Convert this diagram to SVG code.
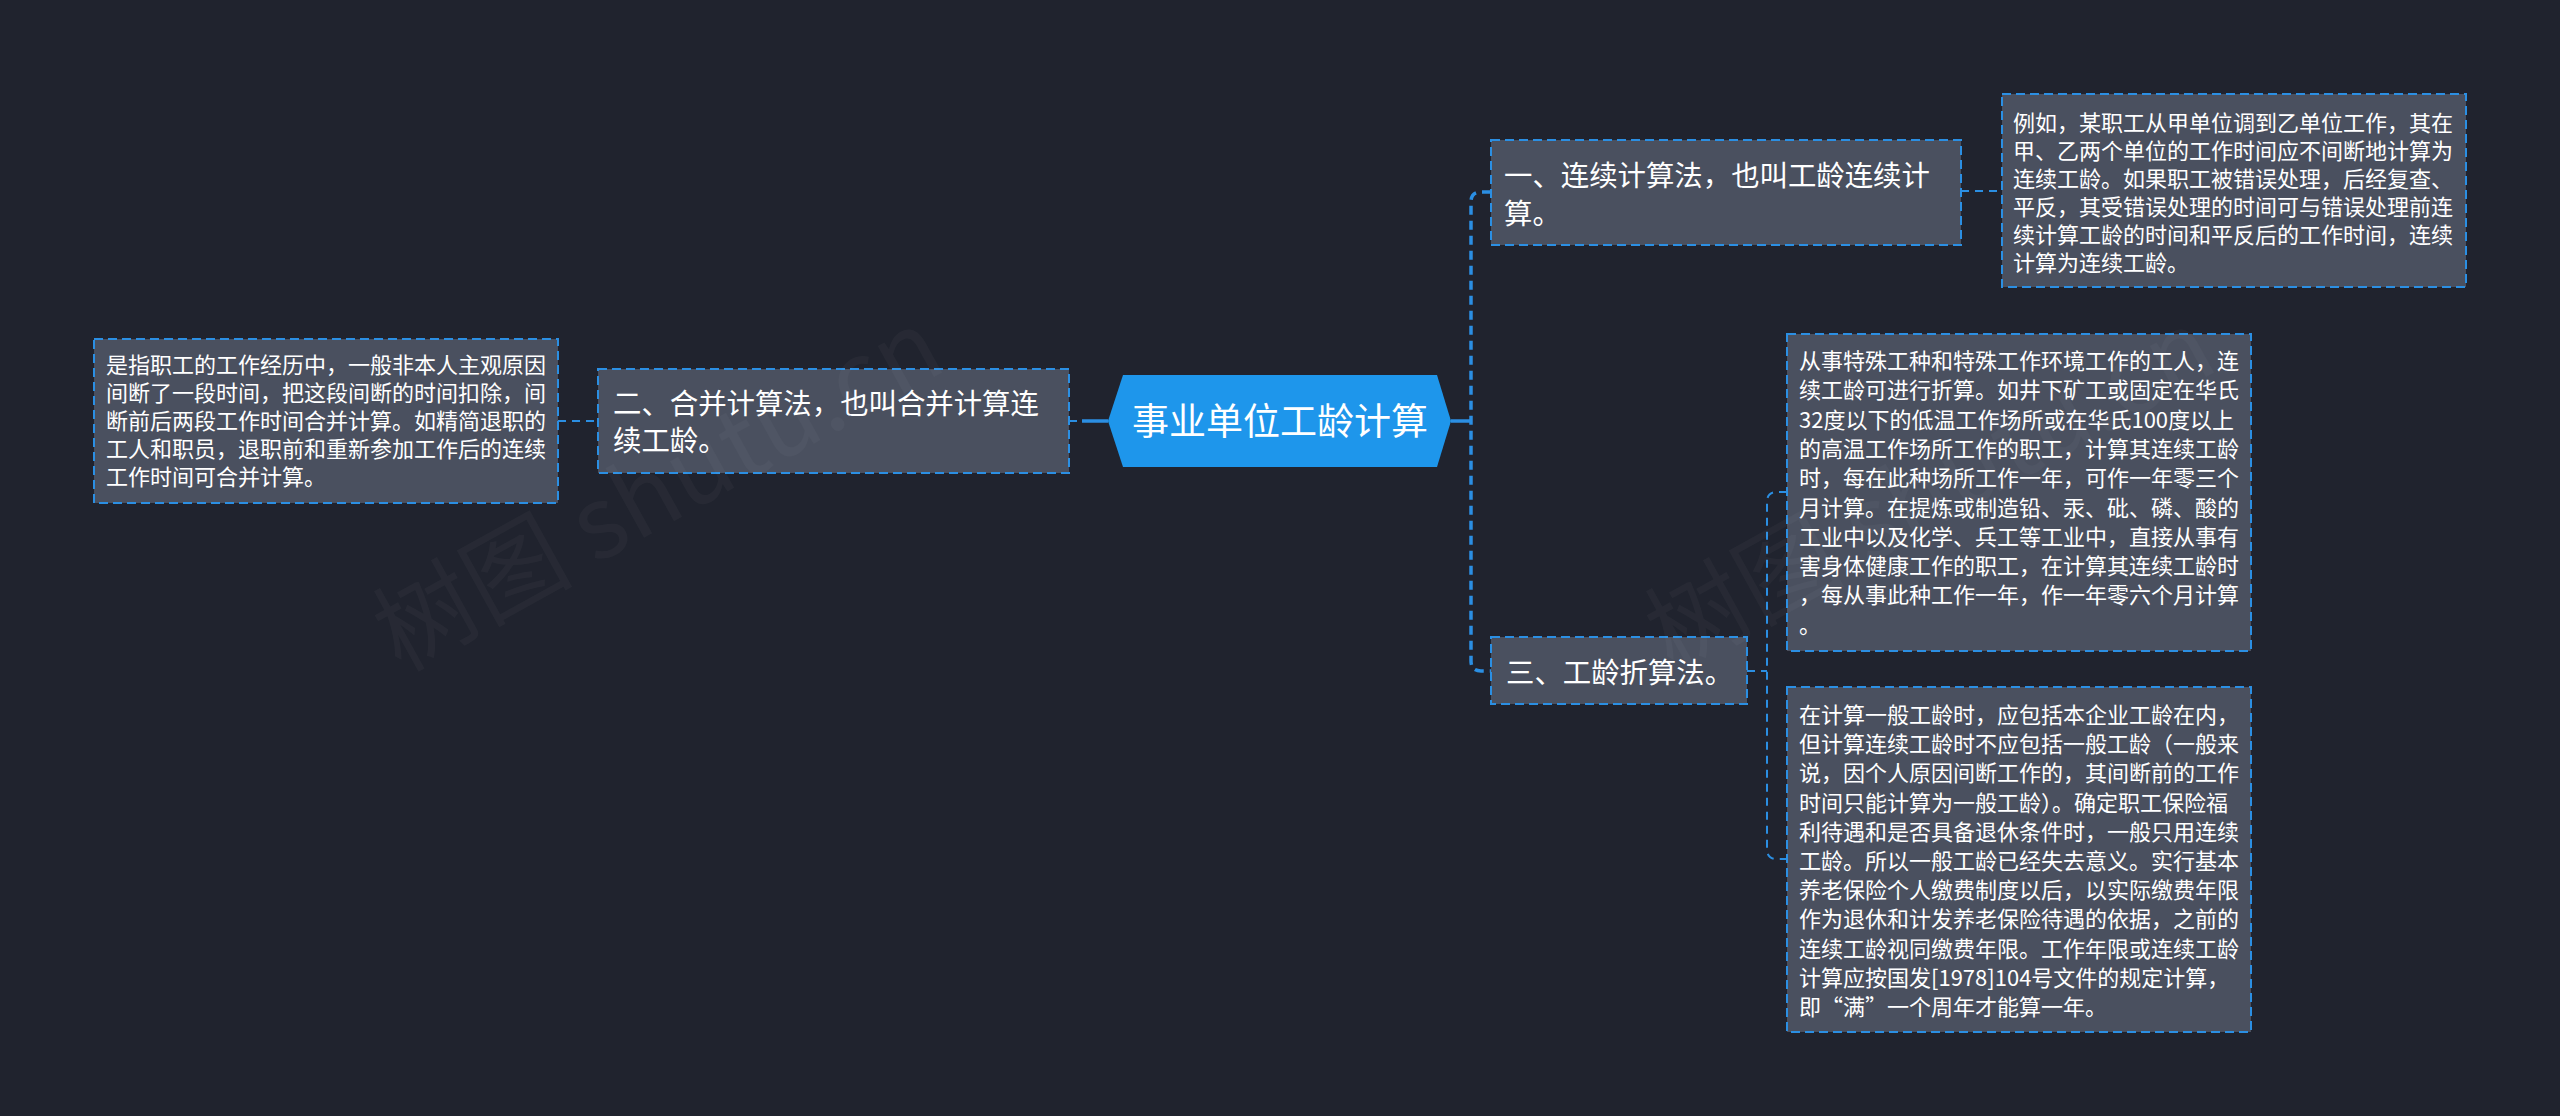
<svg xmlns="http://www.w3.org/2000/svg" width="2560" height="1116" viewBox="0 0 2560 1116">
<style>
.bg{fill:#20232e}
.box{fill:#4a505f;stroke:#2b8fe3;stroke-width:2;stroke-dasharray:9 5}
.t{font-family:"Noto Sans CJK SC","Noto Sans",sans-serif;fill:#ffffff}
.n{font-size:28.4px}
.l{font-size:22px}
.c{fill:none;stroke:#2b8fe3;stroke-width:2;stroke-dasharray:8 6}
.cb{fill:none;stroke:#2b8fe3;stroke-width:3.5;stroke-dasharray:9 6}
.solid{fill:none;stroke:#2b8fe3;stroke-width:3.5}
.wm{font-family:"Noto Sans CJK SC","Noto Sans",sans-serif;font-size:100px;fill:#ffffff;fill-opacity:0.03}
</style>
<rect class="bg" x="0" y="0" width="2560" height="1116"/>
<g id="connectors">
<path class="c" d="M558,421 L598,421"/>
<path class="c" d="M1069,421 L1082,421"/>
<path class="solid" d="M1082,421 L1108,421"/>
<path class="solid" d="M1451,421 L1471,421"/>
<path class="cb" d="M1491,192 L1481,192 Q1471,192 1471,202 L1471,661 Q1471,671 1481,671 L1491,671"/>
<path class="c" d="M1961,191 L2002,191"/>
<path class="c" d="M1747,671 L1767,671"/>
<path class="c" d="M1787,492 L1777,492 Q1767,492 1767,502 L1767,849 Q1767,859 1777,859 L1787,859"/>
</g>
<g id="root">
<polygon points="1108,421 1123,375 1437,375 1451,421 1437,467 1123,467" fill="#1e96eb"/>
<text class="t" x="1280" y="435" font-size="37" text-anchor="middle">事业单位工龄计算</text>
</g>
<g id="node-merge">
<rect class="box" x="598" y="369" width="471" height="104"/>
<text class="t n" x="613" y="414">二、合并计算法，也叫合并计算连</text>
<text class="t n" x="613" y="451">续工龄。</text>
</g>
<g id="leaf-merge">
<rect class="box" x="94" y="339" width="464" height="164"/>
<text class="t l"><tspan x="106" y="373">是指职工的工作经历中，一般非本人主观原因</tspan><tspan x="106" y="401">间断了一段时间，把这段间断的时间扣除，间</tspan><tspan x="106" y="429">断前后两段工作时间合并计算。如精简退职的</tspan><tspan x="106" y="457">工人和职员，退职前和重新参加工作后的连续</tspan><tspan x="106" y="485">工作时间可合并计算。</tspan></text>
</g>
<g id="node-continuous">
<rect class="box" x="1491" y="140" width="470" height="105"/>
<text class="t n" x="1504" y="186">一、连续计算法，也叫工龄连续计</text>
<text class="t n" x="1504" y="224">算。</text>
</g>
<g id="leaf-continuous">
<rect class="box" x="2002" y="94" width="464" height="193"/>
<text class="t l"><tspan x="2013" y="131">例如，某职工从甲单位调到乙单位工作，其在</tspan><tspan x="2013" y="159">甲、乙两个单位的工作时间应不间断地计算为</tspan><tspan x="2013" y="187">连续工龄。如果职工被错误处理，后经复查、</tspan><tspan x="2013" y="215">平反，其受错误处理的时间可与错误处理前连</tspan><tspan x="2013" y="243">续计算工龄的时间和平反后的工作时间，连续</tspan><tspan x="2013" y="271">计算为连续工龄。</tspan></text>
</g>
<g id="node-convert">
<rect class="box" x="1491" y="637" width="256" height="67"/>
<text class="t n" x="1506" y="683">三、工龄折算法。</text>
</g>
<g id="leaf-convert-1">
<rect class="box" x="1787" y="334" width="464" height="317"/>
<text class="t l"><tspan x="1799" y="369">从事特殊工种和特殊工作环境工作的工人，连</tspan><tspan x="1799" y="398.3">续工龄可进行折算。如井下矿工或固定在华氏</tspan><tspan x="1799" y="427.6">32度以下的低温工作场所或在华氏100度以上</tspan><tspan x="1799" y="456.9">的高温工作场所工作的职工，计算其连续工龄</tspan><tspan x="1799" y="486.2">时，每在此种场所工作一年，可作一年零三个</tspan><tspan x="1799" y="515.5">月计算。在提炼或制造铅、汞、砒、磷、酸的</tspan><tspan x="1799" y="544.8">工业中以及化学、兵工等工业中，直接从事有</tspan><tspan x="1799" y="574.1">害身体健康工作的职工，在计算其连续工龄时</tspan><tspan x="1799" y="603.4">，每从事此种工作一年，作一年零六个月计算</tspan><tspan x="1799" y="632.7">。</tspan></text>
</g>
<g id="leaf-convert-2">
<rect class="box" x="1787" y="687" width="464" height="345"/>
<text class="t l"><tspan x="1799" y="723">在计算一般工龄时，应包括本企业工龄在内，</tspan><tspan x="1799" y="752.2">但计算连续工龄时不应包括一般工龄（一般来</tspan><tspan x="1799" y="781.4">说，因个人原因间断工作的，其间断前的工作</tspan><tspan x="1799" y="810.6">时间只能计算为一般工龄）。确定职工保险福</tspan><tspan x="1799" y="839.8">利待遇和是否具备退休条件时，一般只用连续</tspan><tspan x="1799" y="869">工龄。所以一般工龄已经失去意义。实行基本</tspan><tspan x="1799" y="898.2">养老保险个人缴费制度以后，以实际缴费年限</tspan><tspan x="1799" y="927.4">作为退休和计发养老保险待遇的依据，之前的</tspan><tspan x="1799" y="956.6">连续工龄视同缴费年限。工作年限或连续工龄</tspan><tspan x="1799" y="985.8">计算应按国发[1978]104号文件的规定计算，</tspan><tspan x="1799" y="1015">即“满”一个周年才能算一年。</tspan></text>
</g>
<g id="watermarks">
<text class="wm" x="658" y="525" text-anchor="middle" transform="rotate(-29 658 490)">树图 shutu.cn</text>
<text class="wm" x="1930" y="525" text-anchor="middle" transform="rotate(-29 1930 490)">树图 shutu.cn</text>
</g>
</svg>
